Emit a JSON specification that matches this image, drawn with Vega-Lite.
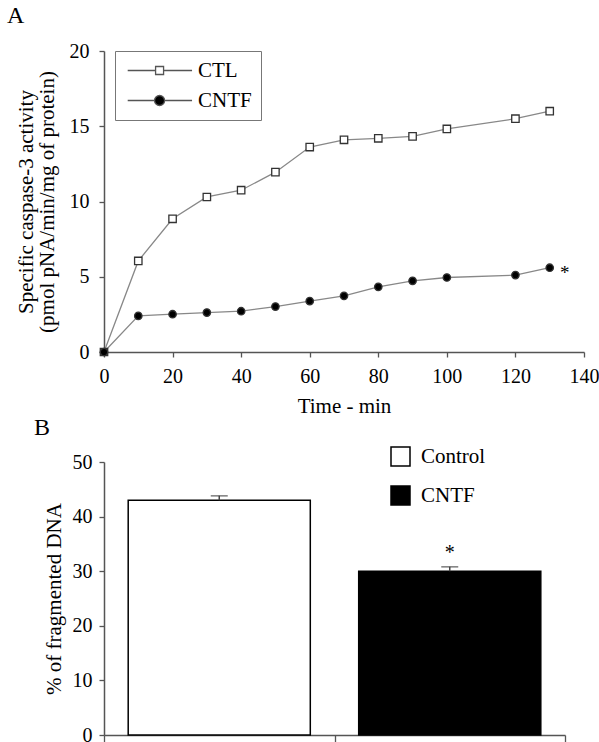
{
  "$schema": "https://vega.github.io/schema/vega-lite/v6.json",
  "background": "white",
  "padding": {"left": 7, "top": 4, "right": 5, "bottom": 5},
  "config": {
    "font": "Liberation Serif",
    "view": {"stroke": null},
    "axis": {"labelFont": "Liberation Serif", "titleFont": "Liberation Serif", "labelFontSize": 20, "titleFontSize": 21, "titleFontWeight": "normal", "labelColor": "black", "titleColor": "black", "domainColor": "#555", "tickColor": "#555", "grid": false, "domainWidth": 1.5, "tickWidth": 1.3},
    "legend": {"labelFont": "Liberation Serif", "labelFontSize": 21, "labelColor": "black"},
    "title": {"font": "Liberation Serif", "fontSize": 24, "fontWeight": "normal", "color": "black", "anchor": "start", "frame": "group"}
  },
  "spacing": 0,
  "vconcat": [
    {
      "title": {"text": "A", "dx": -97, "offset": 13},
      "width": 480,
      "height": 301,
      "data": {"values": [
        {"time": 0, "series": "CTL", "activity": 0},
        {"time": 10, "series": "CTL", "activity": 6.05},
        {"time": 20, "series": "CTL", "activity": 8.85},
        {"time": 30, "series": "CTL", "activity": 10.3},
        {"time": 40, "series": "CTL", "activity": 10.75},
        {"time": 50, "series": "CTL", "activity": 11.95},
        {"time": 60, "series": "CTL", "activity": 13.62},
        {"time": 70, "series": "CTL", "activity": 14.1},
        {"time": 80, "series": "CTL", "activity": 14.2},
        {"time": 90, "series": "CTL", "activity": 14.33},
        {"time": 100, "series": "CTL", "activity": 14.82},
        {"time": 120, "series": "CTL", "activity": 15.5},
        {"time": 130, "series": "CTL", "activity": 16.0},
        {"time": 0, "series": "CNTF", "activity": 0},
        {"time": 10, "series": "CNTF", "activity": 2.4},
        {"time": 20, "series": "CNTF", "activity": 2.51},
        {"time": 30, "series": "CNTF", "activity": 2.62},
        {"time": 40, "series": "CNTF", "activity": 2.71},
        {"time": 50, "series": "CNTF", "activity": 3.02},
        {"time": 60, "series": "CNTF", "activity": 3.38},
        {"time": 70, "series": "CNTF", "activity": 3.73},
        {"time": 80, "series": "CNTF", "activity": 4.33},
        {"time": 90, "series": "CNTF", "activity": 4.73},
        {"time": 100, "series": "CNTF", "activity": 4.95},
        {"time": 120, "series": "CNTF", "activity": 5.11},
        {"time": 130, "series": "CNTF", "activity": 5.6}
      ]},
      "layer": [
        {
          "mark": {"type": "line", "color": "#888", "strokeWidth": 1.3},
          "encoding": {
            "x": {"field": "time", "type": "quantitative", "scale": {"domain": [0, 140], "nice": false},
              "axis": {"title": "Time - min", "values": [0, 10, 20, 30, 40, 50, 60, 70, 80, 90, 100, 110, 120, 130, 140], "labelExpr": "datum.value % 20 === 0 ? datum.label : ''", "tickSize": {"condition": {"test": "datum.value % 20 === 0", "value": 5}, "value": 3}, "labelPadding": 9, "titlePadding": 9, "labelFlush": false}},
            "y": {"field": "activity", "type": "quantitative", "scale": {"domain": [0, 20], "nice": false},
              "axis": {"title": ["Specific caspase-3 activity", "(pmol pNA/min/mg of protein)"], "titleLineHeight": 21, "values": [0, 2.5, 5, 7.5, 10, 12.5, 15, 17.5, 20], "labelExpr": "datum.value % 5 === 0 ? datum.label : ''", "tickSize": {"condition": {"test": "datum.value % 5 === 0", "value": 5}, "value": 3}, "labelPadding": 10, "titlePadding": 12}},
            "detail": {"field": "series"}
          }
        },
        {
          "mark": {"type": "point", "filled": true, "opacity": 1, "stroke": "#333", "strokeWidth": 1.3},
          "encoding": {
            "x": {"field": "time", "type": "quantitative"},
            "y": {"field": "activity", "type": "quantitative"},
            "shape": {"field": "series", "type": "nominal", "scale": {"domain": ["CTL", "CNTF"], "range": ["square", "circle"]}, "legend": null},
            "fill": {"field": "series", "type": "nominal", "scale": {"domain": ["CTL", "CNTF"], "range": ["white", "black"]}, "legend": null},
            "size": {"value": 55}
          }
        },
        {
          "transform": [{"filter": {"field": "series", "equal": "legend-only"}}],
          "mark": {"type": "point", "filled": true, "opacity": 1, "stroke": "#555", "strokeWidth": 1.3},
          "encoding": {
            "x": {"field": "time", "type": "quantitative"},
            "y": {"field": "activity", "type": "quantitative"},
            "shape": {"field": "series", "type": "nominal", "scale": {"domain": ["CTL", "CNTF"], "range": ["M-0.8,0H2.48M3.42,0H6.77M2.48,-0.47H3.42V0.47H2.48Z", "M-0.8,0H2.36M3.54,0H6.77M2.36,0A0.59,0.59,0,1,0,3.54,0A0.59,0.59,0,1,0,2.36,0Z"]},
              "legend": {"orient": "none", "legendX": 11, "legendY": 0, "title": null, "strokeColor": "#777", "padding": 9, "rowPadding": 8, "symbolSize": 289, "symbolStrokeWidth": 1.3, "labelOffset": 53}},
            "fill": {"field": "series", "type": "nominal", "scale": {"domain": ["CTL", "CNTF"], "range": ["white", "black"]},
              "legend": {"orient": "none", "legendX": 11, "legendY": 0, "title": null, "strokeColor": "#777", "padding": 9, "rowPadding": 8, "symbolSize": 289, "symbolStrokeWidth": 1.3, "labelOffset": 53}}
          }
        },
        {
          "data": {"values": [{"time": 130, "activity": 5.6, "note": "*"}]},
          "mark": {"type": "text", "dx": 15, "dy": 5, "fontSize": 19, "font": "Liberation Serif"},
          "encoding": {
            "x": {"field": "time", "type": "quantitative"},
            "y": {"field": "activity", "type": "quantitative"},
            "text": {"field": "note"}
          }
        }
      ],
      "resolve": {"scale": {"shape": "independent", "fill": "independent"}, "legend": {"shape": "independent", "fill": "independent"}}
    },
    {
      "title": {"text": "B", "dx": -70, "offset": 12},
      "width": 461,
      "height": 273,
      "data": {"values": [
        {"group": "Control", "value": 43, "upper": 43.8, "sig": ""},
        {"group": "CNTF", "value": 30, "upper": 30.8, "sig": "*"}
      ]},
      "encoding": {
        "x": {"field": "group", "type": "nominal", "sort": ["Control", "CNTF"], "scale": {"paddingInner": 0, "paddingOuter": 0},
          "axis": {"title": null, "labels": false, "tickBand": "extent", "tickSize": 7}}
      },
      "layer": [
        {
          "mark": {"type": "bar", "stroke": "black", "strokeWidth": 1.5, "width": {"band": 0.79}},
          "encoding": {
            "y": {"field": "value", "type": "quantitative", "scale": {"domain": [0, 50], "nice": false},
              "axis": {"title": "% of fragmented DNA", "values": [0, 5, 10, 15, 20, 25, 30, 35, 40, 45, 50], "labelExpr": "datum.value % 10 === 0 ? datum.label : ''", "tickSize": {"condition": {"test": "datum.value % 10 === 0", "value": 5}, "value": 3}, "labelPadding": 7, "titlePadding": 8}},
            "fill": {"field": "group", "type": "nominal", "scale": {"domain": ["Control", "CNTF"], "range": ["white", "black"]},
              "legend": {"orient": "none", "legendX": 286, "legendY": 395, "title": null, "symbolType": "square", "symbolSize": 361, "symbolStrokeWidth": 1.5, "symbolStrokeColor": "black", "rowPadding": 14, "labelOffset": 10, "padding": 0}}
          }
        },
        {
          "mark": {"type": "rule", "color": "#444", "strokeWidth": 1.5},
          "encoding": {"y": {"field": "value", "type": "quantitative"}, "y2": {"field": "upper"}}
        },
        {
          "mark": {"type": "tick", "orient": "horizontal", "color": "#444", "thickness": 1.5, "size": 17},
          "encoding": {"y": {"field": "upper", "type": "quantitative"}}
        },
        {
          "mark": {"type": "text", "dy": -14, "fontSize": 20, "font": "Liberation Serif"},
          "encoding": {"y": {"field": "upper", "type": "quantitative"}, "text": {"field": "sig"}}
        }
      ]
    }
  ]
}
